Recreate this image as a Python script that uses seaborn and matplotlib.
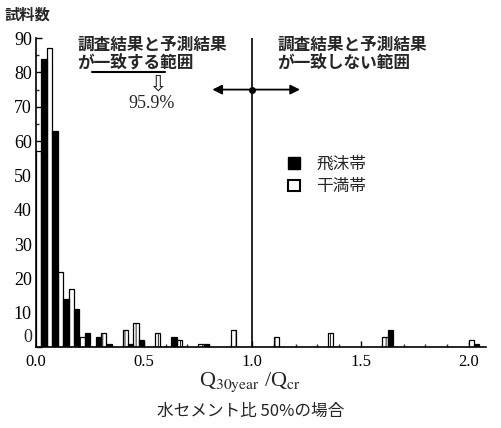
import numpy as np
import pandas as pd
import matplotlib
matplotlib.use("Agg")
import matplotlib.pyplot as plt
import seaborn as sns
from matplotlib.patches import Patch
from matplotlib.ticker import MultipleLocator, FuncFormatter

# bin centres (bin width 0.05) and counts per zone
q_centres = [0.025, 0.075, 0.125, 0.175, 0.225, 0.275, 0.325, 0.425, 0.475,
             0.575, 0.625, 0.675, 0.775, 0.925, 1.125, 1.375, 1.625, 2.025]
splash_counts = [84, 63, 14, 11, 4, 3, 1, 1, 2, 0, 3, 0, 1, 0, 0, 0, 5, 1]   # 飛沫帯
tidal_counts = [57, 87, 22, 17, 3, 0, 4, 5, 7, 4, 0, 2, 1, 5, 3, 4, 3, 2]    # 干満帯
zones = ["干満帯", "飛沫帯"]
legend_order = ["飛沫帯", "干満帯"]

CJK = ["Noto Sans CJK JP", "DejaVu Sans"]
SERIF = ["Liberation Serif", "DejaVu Serif"]

df = pd.DataFrame({
    "q": q_centres * 2,
    "n": tidal_counts + splash_counts,
    "zone": [zones[0]] * len(q_centres) + [zones[1]] * len(q_centres),
})

sns.set_theme(style="ticks")
plt.rcParams["font.family"] = SERIF
plt.rcParams["mathtext.fontset"] = "stix"
plt.rcParams["hatch.color"] = "0.55"
plt.rcParams["hatch.linewidth"] = 0.6

fig = plt.figure(figsize=(5.01, 4.28), dpi=100)
ax = fig.add_axes([0.072, 0.189, 0.898, 0.722])

sns.barplot(data=df, x="q", y="n", hue="zone", hue_order=zones,
            native_scale=True, dodge=True, width=1.0, errorbar=None,
            palette={"干満帯": "white", "飛沫帯": "black"},
            edgecolor="black", linewidth=0.9, legend=False, ax=ax)

for p in ax.containers[0]:
    p.set_hatch("|||")

ax.set_xlim(0, 2.08)
ax.set_ylim(0, 90)
ax.xaxis.set_major_locator(MultipleLocator(0.5))
ax.xaxis.set_minor_locator(MultipleLocator(0.1))
ax.yaxis.set_major_locator(MultipleLocator(10))
ax.yaxis.set_minor_locator(MultipleLocator(5))
ax.xaxis.set_major_formatter(FuncFormatter(lambda v, p: f"{v:.1f}"))
# the "0" is drawn separately, sitting on the baseline as in the original
ax.yaxis.set_major_formatter(FuncFormatter(lambda v, p: "" if v == 0 else f"{v:.0f}"))
ax.tick_params(axis="both", which="major", direction="in", length=4, width=1, colors="black")
ax.tick_params(axis="both", which="minor", direction="in", length=2.5, width=1)
ax.tick_params(axis="y", labelsize=13, pad=3)
ax.tick_params(axis="x", labelsize=12, pad=5)
ax.set_xlabel("")
ax.set_ylabel("")
sns.despine(ax=ax)
for s in ["left", "bottom"]:
    ax.spines[s].set_linewidth(1.2)
    ax.spines[s].set_color("black")
ax.text(-0.019, 0.3, "0", fontsize=13, ha="right", va="bottom")

# boundary at Q/Qcr = 1.0 with double arrow
ax.axvline(1.0, color="black", lw=1.2)
ax.annotate("", xy=(0.815, 75), xytext=(1.22, 75),
            arrowprops=dict(arrowstyle="<|-|>", color="black", lw=1.3,
                            mutation_scale=14, shrinkA=0, shrinkB=0))
ax.plot([1.0], [75], "o", color="black", ms=4)

ax.text(0.19, 90.8, "調査結果と予測結果\nが一致する範囲", family=CJK,
        fontsize=12, fontweight="bold", va="top", ha="left", linespacing=1.1)
ax.plot([0.257, 0.596], [80, 80], color="black", lw=1.5)
ax.text(0.56, 76.6, "⇩", family=["DejaVu Sans"], fontsize=16, ha="center", va="center")
ax.text(0.536, 71.0, "95.9%", fontsize=13, ha="center", va="center")
ax.text(1.114, 90.8, "調査結果と予測結果\nが一致しない範囲", family=CJK,
        fontsize=12, fontweight="bold", va="top", ha="left", linespacing=1.1)

handles = [Patch(facecolor="black", edgecolor="black"),
           Patch(facecolor="white", edgecolor="black", lw=1.5)]
ax.legend(handles, legend_order, loc="upper left", bbox_to_anchor=(0.56, 0.62),
          frameon=False, prop={"family": CJK, "size": 12}, handlelength=0.7,
          handleheight=0.7, handletextpad=1.0, labelspacing=0.35,
          borderpad=0, borderaxespad=0)

fig.text(0.01, 0.985, "試料数", family=CJK, fontsize=11, fontweight="bold",
         va="top", ha="left")
fig.text(0.5, 0.108, r"Q$_{\rm 30year}$ /Q$_{\rm cr}$", fontsize=16,
         ha="center", va="center")
fig.text(0.5, 0.038, "水セメント比 50%の場合", family=CJK, fontsize=12,
         ha="center", va="center")

fig.savefig("out.png", dpi=100)
